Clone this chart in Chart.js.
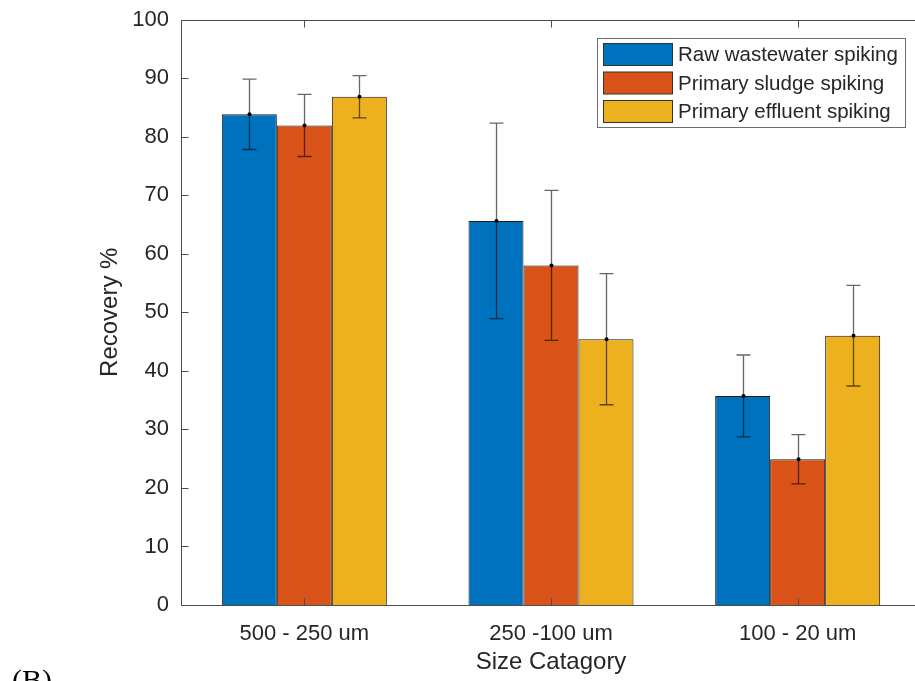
<!DOCTYPE html>
<html lang="en">
<head>
    <meta charset="UTF-8">
    <title>Recovery by size category</title>
    <script src="https://cdn.jsdelivr.net/npm/chart.js"></script>
    <style>
        html, body { margin: 0; padding: 0; background: #fff; overflow: hidden; }
        #wrap { width: 930px; height: 681px; }
    </style>
</head>
<body>
<div id="wrap"><canvas id="chart" width="930" height="681"></canvas></div>
<script>
// data
const categories = ['500 - 250 um', '250 -100 um', '100 - 20 um'];
const seriesNames = ['Raw wastewater spiking', 'Primary sludge spiking', 'Primary effluent spiking'];
const rawWastewater = [83.8, 65.6, 35.7];
const primarySludge = [81.9, 58.0, 24.9];
const primaryEffluent = [86.8, 45.4, 46.0];
const rawErr = [6.0, 16.7, 7.0];
const sludgeErr = [5.3, 12.8, 4.2];
const effluentErr = [3.6, 11.2, 8.6];
const yMin = 0, yMax = 100, yStep = 10;

const colors = ['#0072BD', '#D95319', '#EDB120'];
const textColor = '#262626';
const fontFamily = '"Liberation Sans", Arial, sans-serif';

const seriesValues = [rawWastewater, primarySludge, primaryEffluent];
const seriesErrors = [rawErr, sludgeErr, effluentErr];

// error bars on top of the bars
const errorBars = {
    id: 'errorBars',
    afterDatasetsDraw(chart) {
        const ctx = chart.ctx;
        const y = chart.scales.y;
        ctx.save();
        chart.data.datasets.forEach((ds, i) => {
            const meta = chart.getDatasetMeta(i);
            meta.data.forEach((bar, j) => {
                const v = ds.data[j];
                const e = seriesErrors[i][j];
                const x = Math.round(bar.x) + 0.5;
                const yHi = y.getPixelForValue(v + e);
                const yLo = y.getPixelForValue(v - e);
                ctx.strokeStyle = 'rgba(0,0,0,0.6)';
                ctx.lineWidth = 1.3;
                ctx.beginPath();
                ctx.moveTo(x, yHi); ctx.lineTo(x, yLo);
                ctx.moveTo(x - 7, yHi); ctx.lineTo(x + 7, yHi);
                ctx.moveTo(x - 7, yLo); ctx.lineTo(x + 7, yLo);
                ctx.stroke();
                ctx.fillStyle = '#000';
                ctx.beginPath();
                ctx.arc(x, y.getPixelForValue(v), 2, 0, Math.PI * 2);
                ctx.fill();
            });
        });
        ctx.restore();
    }
};

// MATLAB style box with inward ticks, legend and panel letter
const axesBox = {
    id: 'axesBox',
    afterDraw(chart) {
        const ctx = chart.ctx;
        const a = chart.chartArea;
        const xs = chart.scales.x, ys = chart.scales.y;
        const L = Math.round(a.left) + 0.5, R = Math.round(a.right) - 0.5;
        const T = Math.round(a.top) + 0.5, B = Math.round(a.bottom) + 0.5;
        ctx.save();
        ctx.strokeStyle = '#4d4d4d';
        ctx.lineWidth = 1;
        ctx.beginPath();
        ctx.rect(L, T, R - L, B - T);
        ys.ticks.forEach(t => {
            const py = Math.round(ys.getPixelForValue(t.value)) + 0.5;
            ctx.moveTo(L, py); ctx.lineTo(L + 7, py);
        });
        xs.ticks.forEach((t, i) => {
            const px = Math.round(xs.getPixelForTick(i)) + 0.5;
            ctx.moveTo(px, T); ctx.lineTo(px, T + 7);
            ctx.moveTo(px, B); ctx.lineTo(px, B - 7);
        });
        ctx.stroke();

        // legend
        const lx = 597.5, ly = 38.5, lw = 308, lh = 89;
        ctx.fillStyle = '#fff';
        ctx.fillRect(lx, ly, lw, lh);
        ctx.strokeStyle = '#6e6e6e';
        ctx.strokeRect(lx, ly, lw, lh);
        ctx.font = '20.5px ' + fontFamily;
        ctx.textBaseline = 'middle';
        chart.data.datasets.forEach((ds, i) => {
            const top = 43.5 + i * 28.5;
            ctx.fillStyle = ds.backgroundColor;
            ctx.fillRect(603.5, top, 69, 22);
            ctx.strokeStyle = '#333';
            ctx.strokeRect(603.5, top, 69, 22);
            ctx.fillStyle = textColor;
            ctx.fillText(ds.label, 678, top + 12);
        });

        // panel letter
        ctx.font = '30px "Liberation Serif", "Times New Roman", serif';
        ctx.fillStyle = '#000';
        ctx.textBaseline = 'alphabetic';
        ctx.fillText('(B)', 12, 690);
        ctx.restore();
    }
};

new Chart(document.getElementById('chart'), {
    type: 'bar',
    data: {
        labels: categories,
        datasets: seriesValues.map((vals, i) => ({
            label: seriesNames[i],
            data: vals,
            backgroundColor: colors[i],
            borderColor: '#1a1a1a',
            borderWidth: 1,
            barPercentage: 1,
            categoryPercentage: 0.669
        }))
    },
    options: {
        responsive: false,
        animation: false,
        devicePixelRatio: 1,
        layout: { padding: { left: 90, top: 19.5, right: 9, bottom: 0 } },
        plugins: {
            legend: { display: false },
            tooltip: { enabled: false }
        },
        scales: {
            x: {
                grid: { display: false },
                border: { display: false },
                ticks: {
                    color: textColor,
                    font: { family: fontFamily, size: 22 },
                    padding: 8,
                    maxRotation: 0,
                    autoSkip: false
                },
                title: {
                    display: true,
                    text: 'Size Catagory',
                    color: textColor,
                    font: { family: fontFamily, size: 24 },
                    padding: { top: 0, bottom: 4 }
                },
                afterFit(scale) {
                    scale.height = 76;
                    scale.paddingLeft = 0;
                    scale.paddingRight = 0;
                }
            },
            y: {
                min: yMin,
                max: yMax,
                grid: { display: false },
                border: { display: false },
                ticks: {
                    stepSize: yStep,
                    color: textColor,
                    font: { family: fontFamily, size: 22 },
                    padding: 4
                },
                title: {
                    display: true,
                    text: 'Recovery %',
                    color: textColor,
                    font: { family: fontFamily, size: 24 },
                    padding: { top: 6, bottom: 0 }
                },
                afterFit(scale) {
                    scale.width = 91;
                    scale.paddingTop = 0;
                    scale.paddingBottom = 0;
                }
            }
        }
    },
    plugins: [errorBars, axesBox]
});
</script>
</body>
</html>
